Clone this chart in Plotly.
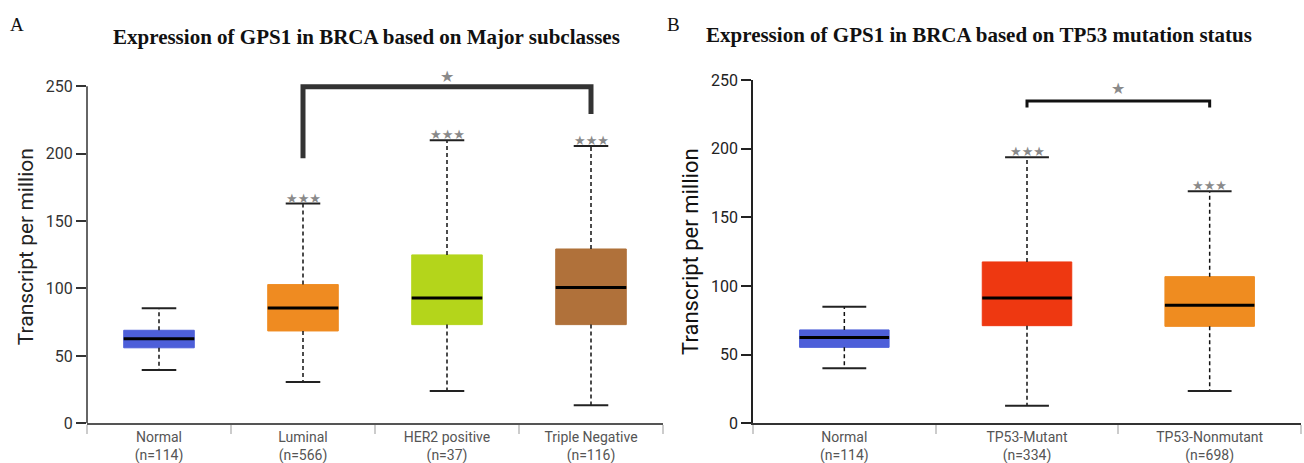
import plotly.graph_objects as go

# ---------------- data ----------------
left_categories = ["Normal<br>(n=114)", "Luminal<br>(n=566)", "HER2 positive<br>(n=37)", "Triple Negative<br>(n=116)"]
left_lower = [39.5, 30.6, 24.0, 13.4]
left_q1 = [56.0, 68.5, 73.2, 73.2]
left_median = [62.8, 85.5, 93.0, 100.7]
left_q3 = [69.0, 102.9, 124.9, 129.3]
left_upper = [85.3, 163.0, 210.0, 205.7]
left_colors = ["#4d5fd9", "#ef8b21", "#b4d51b", "#b0713a"]
left_stars = ["", "★★★", "★★★", "★★★"]

right_categories = ["Normal<br>(n=114)", "TP53-Mutant<br>(n=334)", "TP53-Nonmutant<br>(n=698)"]
right_lower = [40.0, 12.8, 23.5]
right_q1 = [55.3, 71.1, 70.6]
right_median = [62.4, 91.3, 86.0]
right_q3 = [68.0, 117.5, 106.8]
right_upper = [84.9, 193.7, 169.0]
right_colors = ["#4d5fd9", "#ee3811", "#ef8c20"]
right_stars = ["", "★★★", "★★★"]

y_ticks = [0, 50, 100, 150, 200, 250]

# significance brackets (category index from, to ; leg bottoms ; top)
left_bracket = dict(i0=1, i1=3, y0=196.6, y1=229.5, top=249.7, star_y=257.0)
right_bracket = dict(i0=1, i1=2, y0=230.0, y1=230.0, top=234.7, star_y=243.5)

W, H = 1304, 463
BOX_W = 0.49
CAP_W = 0.24

fig = go.Figure()


def add_panel(xa, ya, lower, q1, med, q3, upper, colors, stars):
    n = len(med)
    for i in range(n):
        fig.add_trace(go.Box(
            x=[i], q1=[q1[i]], median=[med[i]], q3=[q3[i]],
            lowerfence=[q1[i]], upperfence=[q3[i]],
            width=BOX_W, whiskerwidth=0, boxpoints=False,
            fillcolor=colors[i], line=dict(color=colors[i], width=1),
            xaxis=xa, yaxis=ya, showlegend=False, hoverinfo="skip"))
    wx, wy, cx, cy, mx, my = [], [], [], [], [], []
    for i in range(n):
        wx += [i, i, None, i, i, None]
        wy += [q3[i], upper[i], None, q1[i], lower[i], None]
        cx += [i - CAP_W / 2, i + CAP_W / 2, None, i - CAP_W / 2, i + CAP_W / 2, None]
        cy += [upper[i], upper[i], None, lower[i], lower[i], None]
        mx += [i - BOX_W / 2, i + BOX_W / 2, None]
        my += [med[i], med[i], None]
    fig.add_trace(go.Scatter(x=wx, y=wy, mode="lines", xaxis=xa, yaxis=ya,
                             line=dict(color="#111", width=1.5, dash="4px,3px"),
                             showlegend=False, hoverinfo="skip"))
    fig.add_trace(go.Scatter(x=cx, y=cy, mode="lines", xaxis=xa, yaxis=ya,
                             line=dict(color="#222", width=2),
                             showlegend=False, hoverinfo="skip"))
    fig.add_trace(go.Scatter(x=mx, y=my, mode="lines", xaxis=xa, yaxis=ya,
                             line=dict(color="#000", width=3),
                             showlegend=False, hoverinfo="skip"))
    for i in range(n):
        if stars[i]:
            fig.add_annotation(x=i, y=upper[i], xref=xa, yref=ya, text=stars[i],
                               showarrow=False, xanchor="center", yanchor="bottom", yshift=-4,
                               font=dict(family="DejaVu Sans", size=13, color="#8a8a8a"))


def add_bracket(xa, ya, b, width, color):
    fig.add_trace(go.Scatter(x=[b["i0"], b["i0"], b["i1"], b["i1"]],
                             y=[b["y0"], b["top"], b["top"], b["y1"]],
                             mode="lines", xaxis=xa, yaxis=ya,
                             line=dict(color=color, width=width),
                             showlegend=False, hoverinfo="skip"))
    fig.add_annotation(x=(b["i0"] + b["i1"]) / 2, y=b["star_y"], xref=xa, yref=ya,
                       text="★", showarrow=False, xanchor="center", yanchor="middle",
                       font=dict(family="DejaVu Sans", size=16, color="#8a8a8a"))


add_panel("x", "y", left_lower, left_q1, left_median, left_q3, left_upper, left_colors, left_stars)
add_bracket("x", "y", left_bracket, 5, "#333333")
add_panel("x2", "y2", right_lower, right_q1, right_median, right_q3, right_upper, right_colors, right_stars)
add_bracket("x2", "y2", right_bracket, 3, "#111111")

y0 = (H - 423.3) / H
tick_font = dict(family="Roboto", size=16, color="#333")
cat_font = dict(family="Roboto", size=14, color="#555")

nL, nR = len(left_categories), len(right_categories)
fig.update_layout(
    width=W, height=H,
    margin=dict(l=0, r=0, t=0, b=0, autoexpand=False),
    paper_bgcolor="white", plot_bgcolor="white",
    xaxis=dict(domain=[87 / W, 663 / W], range=[-0.5, nL - 0.5],
               tickvals=list(range(nL)), ticktext=left_categories, ticks="",
               tickfont=cat_font, showgrid=False, zeroline=False,
               showline=True, linecolor="#555", linewidth=2,
               minor=dict(tickvals=[i - 0.5 for i in range(nL + 1)], ticks="outside",
                          ticklen=9, tickcolor="#cccccc", tickwidth=1.5, showgrid=False),
               anchor="y", fixedrange=True, automargin=False),
    yaxis=dict(domain=[y0, (H - 70.1) / H], range=[0, 262],
               tickvals=y_ticks, ticks="outside", ticklen=10, tickcolor="#333", tickwidth=1.5,
               tickfont=tick_font, showgrid=False, zeroline=False, showline=False,
               title=dict(text="Transcript per million", font=dict(family="Roboto", size=21, color="#222"), standoff=6),
               anchor="x", fixedrange=True, automargin=False),
    xaxis2=dict(domain=[753 / W, 1301 / W], range=[-0.5, nR - 0.5],
                tickvals=list(range(nR)), ticktext=right_categories, ticks="",
                tickfont=cat_font, showgrid=False, zeroline=False,
                showline=True, linecolor="#333", linewidth=2,
                minor=dict(tickvals=[i - 0.5 for i in range(nR + 1)], ticks="outside",
                           ticklen=9, tickcolor="#cccccc", tickwidth=1.5, showgrid=False),
                anchor="y2", fixedrange=True, automargin=False),
    yaxis2=dict(domain=[y0, (H - 80.0) / H], range=[0, 250],
                tickvals=y_ticks, ticks="outside", ticklen=10, tickcolor="#222", tickwidth=1.5,
                tickfont=dict(family="Roboto", size=16, color="#222"),
                showgrid=False, zeroline=False, showline=True, linecolor="#222", linewidth=1.5,
                title=dict(text="Transcript per million", font=dict(family="Roboto", size=22, color="#111"), standoff=6),
                anchor="x2", fixedrange=True, automargin=False),
)

# left y axis line (stops at the 250 tick)
fig.add_shape(type="line", xref="x domain", yref="y", x0=0, x1=0, y0=0, y1=250,
              line=dict(color="#333", width=1.5))

# titles and panel letters
def paper_text(px, py, text, size):
    fig.add_annotation(x=px / W, y=1 - py / H, xref="paper", yref="paper", showarrow=False,
                       xanchor="center", yanchor="middle", text=text,
                       font=dict(family="Liberation Serif", size=size, color="#111"))


paper_text(366, 37, "<b>Expression of GPS1 in BRCA based on Major subclasses</b>", 21)
paper_text(979, 35, "<b>Expression of GPS1 in BRCA based on TP53 mutation status</b>", 21)
paper_text(17, 25, "A", 19)
paper_text(673, 25, "B", 19)

fig.write_html("out.html")
